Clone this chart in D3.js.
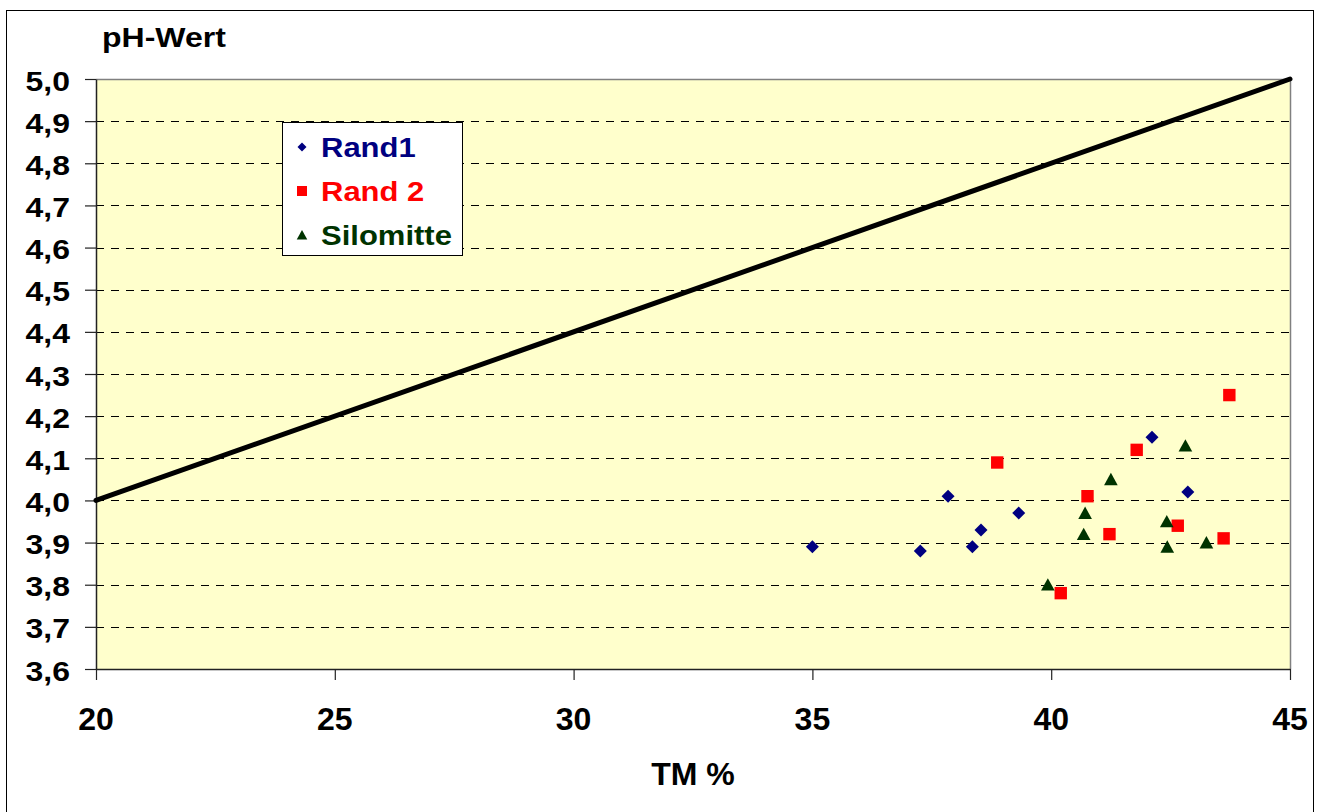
<!DOCTYPE html>
<html><head><meta charset="utf-8">
<script src="https://cdn.jsdelivr.net/npm/d3@7"></script>
<style>html,body{margin:0;padding:0;background:#fff;overflow:hidden}text{font-family:Arial,"Liberation Sans",sans-serif;font-weight:bold}</style>
</head><body>
<script>
const xTicks = [20, 25, 30, 35, 40, 45];
const yTicks = [3.6, 3.7, 3.8, 3.9, 4.0, 4.1, 4.2, 4.3, 4.4, 4.5, 4.6, 4.7, 4.8, 4.9, 5.0];
const rand1X = [35.0, 37.26, 37.84, 38.35, 38.53, 39.32, 42.11, 42.86];
const rand1Y = [3.89, 3.88, 4.01, 3.89, 3.93, 3.97, 4.15, 4.02];
const rand2X = [38.87, 40.2, 40.76, 41.22, 41.79, 42.65, 43.61, 43.73];
const rand2Y = [4.09, 3.78, 4.01, 3.92, 4.12, 3.94, 3.91, 4.25];
const siloX = [39.93, 40.68, 40.71, 41.25, 42.42, 42.43, 42.81, 43.25];
const siloY = [3.80, 3.92, 3.97, 4.05, 3.95, 3.89, 4.13, 3.90];
const refX = [20, 45];
const refY = [4.0, 5.0];
const seriesNames = ["Rand1", "Rand 2", "Silomitte"];
const seriesColors = ["#000080", "#FF0000", "#003300"];
const yTitle = "pH-Wert";
const xTitle = "TM %";

const W = 1321, H = 812;
const svg = d3.select("body").append("svg").attr("width", W).attr("height", H);
const L = 96, R = 1290, T = 79, B = 669;
const x = d3.scaleLinear().domain([20, 45]).range([L, R]);
const y = d3.scaleLinear().domain([3.6, 5.0]).range([B, T]);
const fmt = d3.formatLocale({decimal: ",", thousands: ".", grouping: [3], currency: ["", "€"]}).format(".1f");

// outer border
svg.append("rect").attr("x", 6.5).attr("y", 10.5).attr("width", 1307).attr("height", 820)
  .attr("fill", "#fff").attr("stroke", "#000").attr("stroke-width", 1);

// plot background
svg.append("rect").attr("x", L).attr("y", T).attr("width", R - L).attr("height", B - T)
  .attr("fill", "#FFFFCC");

// gridlines
svg.append("g").selectAll("line").data(yTicks.filter(d => d > 3.65 && d < 4.95)).join("line")
  .attr("x1", L).attr("x2", R)
  .attr("y1", d => Math.round(y(d)) + 0.5).attr("y2", d => Math.round(y(d)) + 0.5)
  .attr("stroke", "#000").attr("stroke-width", 1).attr("stroke-dasharray", "8,7")
  .attr("shape-rendering", "crispEdges");

// plot frame top/right (grey)
svg.append("path").attr("d", `M${L},${T + 0.5}H${R + 0.5}V${B}`)
  .attr("fill", "none").attr("stroke", "#808080").attr("stroke-width", 1.5);

// axes
const yAxis = d3.axisLeft(y).tickValues(yTicks).tickFormat("").tickSize(11).tickSizeOuter(0);
const gy = svg.append("g").attr("transform", `translate(${L},0)`).call(yAxis);
const xAxis = d3.axisBottom(x).tickValues(xTicks).tickFormat("").tickSize(11).tickSizeOuter(0);
const gx = svg.append("g").attr("transform", `translate(0,${B})`).call(xAxis);
[gy, gx].forEach(g => {
  g.selectAll("path").attr("stroke", "#222").attr("stroke-width", 1.5);
  g.selectAll("line").attr("stroke", "#222").attr("stroke-width", 1.2);
});

// y tick labels (slightly squished)
svg.append("g").selectAll("text").data(yTicks).join("text")
  .attr("transform", d => `translate(70,${y(d) + 11.5}) scale(1,0.85)`)
  .attr("text-anchor", "end").attr("font-size", 32).attr("fill", "#000")
  .text(d => fmt(d));

// x tick labels
svg.append("g").selectAll("text").data(xTicks).join("text")
  .attr("x", d => x(d)).attr("y", 730)
  .attr("text-anchor", "middle").attr("font-size", 32).attr("fill", "#000")
  .text(d => d);

// titles
svg.append("text").attr("transform", "translate(102,46.5) scale(1,0.87)")
  .attr("font-size", 32).attr("fill", "#000").text(yTitle);
svg.append("text").attr("x", 693).attr("y", 785).attr("text-anchor", "middle")
  .attr("font-size", 32).attr("fill", "#000").text(xTitle);

// reference line
svg.append("path")
  .attr("d", d3.line().x(d => x(d[0])).y(d => y(d[1]))(refX.map((v, i) => [v, refY[i]])))
  .attr("fill", "none").attr("stroke", "#000").attr("stroke-width", 5).attr("stroke-linecap", "round");

// markers
const diamond = s => `M0,${-s}L${s},0L0,${s}L${-s},0Z`;
const square = s => `M${-s},${-s}H${s}V${s}H${-s}Z`;
const tri = s => `M0,${-s}L${s * 1.05},${s * 0.9}L${-s * 1.05},${s * 0.9}Z`;
const shapes = [diamond, square, tri];
const sizes = [6.5, 6.2, 6.5];
const data = [
  rand1X.map((v, i) => [v, rand1Y[i]]),
  rand2X.map((v, i) => [v, rand2Y[i]]),
  siloX.map((v, i) => [v, siloY[i]])
];
data.forEach((pts, k) => {
  svg.append("g").selectAll("path").data(pts).join("path")
    .attr("transform", d => `translate(${x(d[0])},${y(d[1])})`)
    .attr("d", shapes[k](sizes[k]))
    .attr("fill", seriesColors[k]);
});

// legend
const lg = svg.append("g");
lg.append("rect").attr("x", 282.5).attr("y", 122.5).attr("width", 180).attr("height", 133)
  .attr("fill", "#fff").attr("stroke", "#000").attr("stroke-width", 1);
const rowY = [147, 191, 235];
const lsizes = [4.5, 5, 5];
seriesNames.forEach((n, k) => {
  lg.append("path").attr("transform", `translate(302,${rowY[k]})`)
    .attr("d", shapes[k](lsizes[k])).attr("fill", seriesColors[k]);
  lg.append("text").attr("transform", `translate(321,${rowY[k] + 10}) scale(1,0.87)`)
    .attr("font-size", 31).attr("fill", seriesColors[k]).text(n);
});
</script>
</body></html>
